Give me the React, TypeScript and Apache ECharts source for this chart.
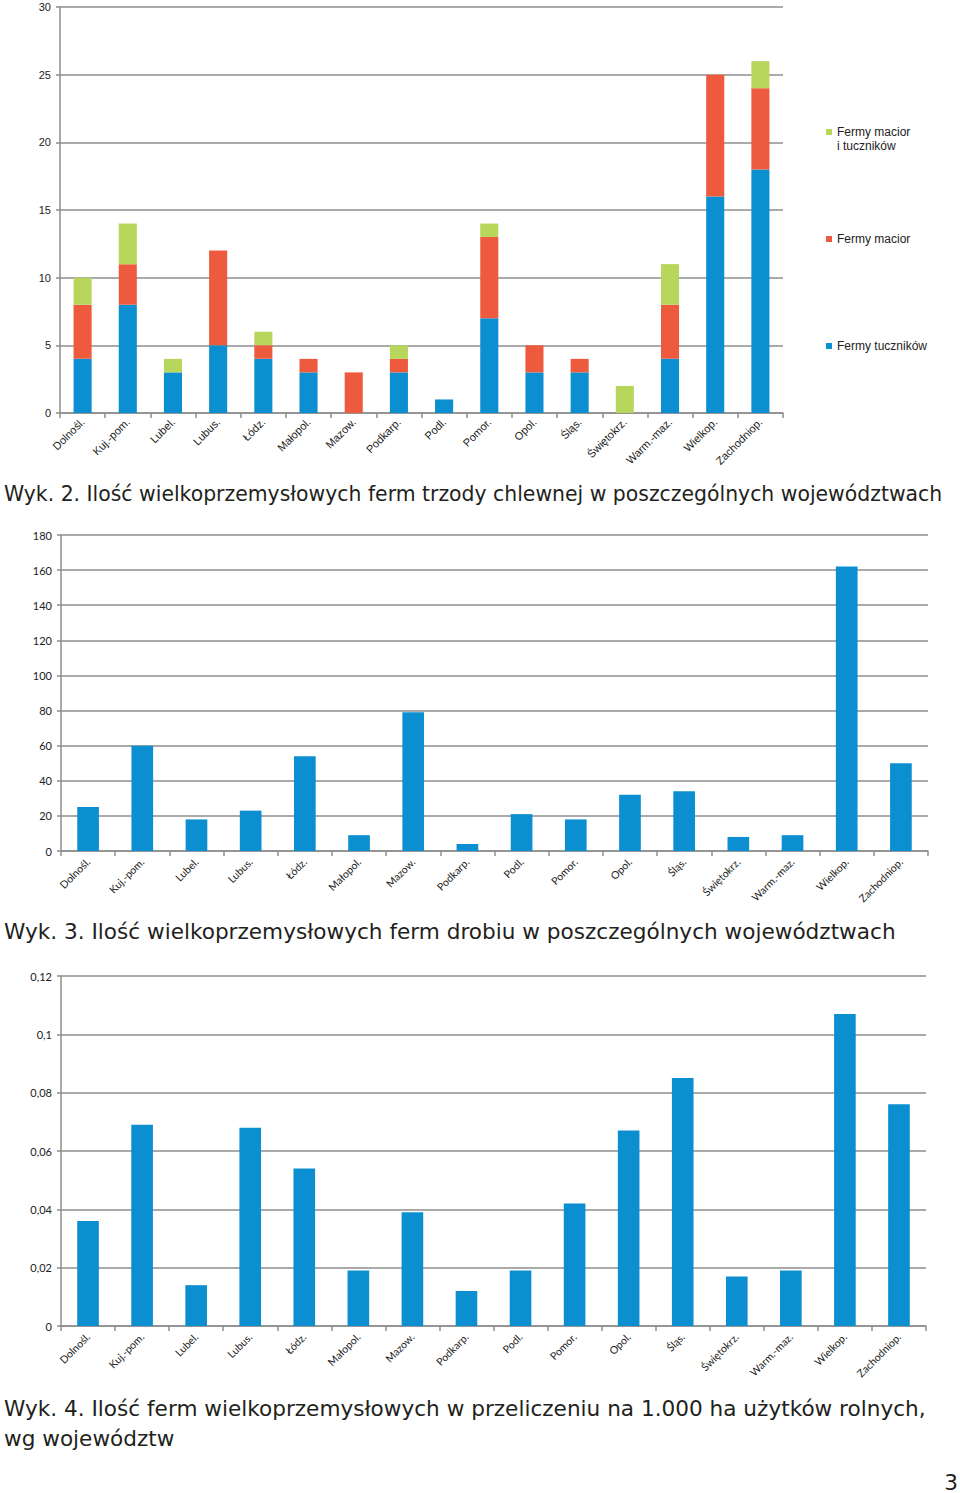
import React, { useEffect, useRef } from "react";
import * as echarts from "echarts";

const categories = [
  "Dolnośl.", "Kuj.-pom.", "Lubel.", "Lubus.", "Łódz.", "Małopol.", "Mazow.", "Podkarp.",
  "Podl.", "Pomor.", "Opol.", "Śląs.", "Świętokrz.", "Warm.-maz.", "Wielkop.", "Zachodniop.",
];

// Wyk. 2 – pig farms (stacked)
const pigFattening = [4, 8, 3, 5, 4, 3, 0, 3, 1, 7, 3, 3, 0, 4, 16, 18];
const pigSows = [4, 3, 0, 7, 1, 1, 3, 1, 0, 6, 2, 1, 0, 4, 9, 6];
const pigMixed = [2, 3, 1, 0, 1, 0, 0, 1, 0, 1, 0, 0, 2, 3, 0, 2];
const pigSeriesNames = ["Fermy tuczników", "Fermy macior", "Fermy macior i tuczników"];

// Wyk. 3 – poultry farms
const poultryFarms = [25, 60, 18, 23, 54, 9, 79, 4, 21, 18, 32, 34, 8, 9, 162, 50];

// Wyk. 4 – farms per 1000 ha
const farmsPer1000ha = [
  0.036, 0.069, 0.014, 0.068, 0.054, 0.019, 0.039, 0.012,
  0.019, 0.042, 0.067, 0.085, 0.017, 0.019, 0.107, 0.076,
];

const captionWyk2 = "Wyk. 2. Ilość wielkoprzemysłowych ferm trzody chlewnej w poszczególnych województwach";
const captionWyk3 = "Wyk. 3. Ilość wielkoprzemysłowych ferm drobiu w poszczególnych województwach";
const captionWyk4a = "Wyk. 4. Ilość ferm wielkoprzemysłowych w przeliczeniu na 1.000 ha użytków rolnych,";
const captionWyk4b = "wg województw";
const pageNumber = "3";

const BLUE = "#0b8fd1";
const RED = "#ee5a3e";
const GREEN = "#b7d65c";
const AXIS = "#8e8e8e";
const TEXT = "#222";
const CAPTION = "#231f20";
const CAPTION_FONT = '400 21.6px "DejaVu Sans", sans-serif';
const CAPTION_FONT_TIGHT = '400 20.4px "DejaVu Sans", sans-serif';

function xAxisFor(gridIndex: number, font: string, size: number, margin: number) {
  return {
    type: "category",
    gridIndex,
    data: categories,
    boundaryGap: true,
    axisLine: { show: true, lineStyle: { color: AXIS, width: 1.5 } },
    axisTick: { show: true, length: 5, lineStyle: { color: AXIS, width: 1.5 } },
    axisLabel: {
      interval: 0,
      rotate: 45,
      margin,
      fontFamily: font,
      fontSize: size,
      color: TEXT,
    },
    splitLine: { show: false },
  };
}

function yAxisFor(
  gridIndex: number,
  min: number,
  max: number,
  interval: number,
  font: string,
  size: number,
  formatter?: (v: number) => string
) {
  return {
    type: "value",
    gridIndex,
    min,
    max,
    interval,
    axisLine: { show: true, lineStyle: { color: AXIS, width: 1.5 } },
    axisTick: { show: true, length: 4, lineStyle: { color: AXIS, width: 1.5 } },
    splitLine: { show: true, lineStyle: { color: AXIS, width: 1.5 } },
    axisLabel: {
      margin: 9,
      fontFamily: font,
      fontSize: size,
      color: TEXT,
      formatter,
    },
  };
}

export default function App() {
  const ref = useRef<HTMLDivElement>(null);

  useEffect(() => {
    document.body.style.margin = "0";
    if (!ref.current) return;
    const chart = echarts.init(ref.current, undefined, { renderer: "svg" });

    const legendText = {
      fontFamily: '"Liberation Sans", Arial, sans-serif',
      fontSize: 12,
      lineHeight: 14,
      color: TEXT,
    };
    const legendBase = {
      left: 826,
      padding: 0,
      icon: "rect",
      itemWidth: 6,
      itemHeight: 6,
      selectedMode: false,
      textStyle: legendText,
    };

    chart.setOption({
      animation: false,
      backgroundColor: "#fff",
      grid: [
        { left: 60, top: 7, width: 723, height: 406, outerBoundsMode: "none" },
        { left: 61, top: 535, width: 867, height: 316, outerBoundsMode: "none" },
        { left: 61, top: 976, width: 865, height: 350, outerBoundsMode: "none" },
      ],
      xAxis: [
        xAxisFor(0, '"Liberation Sans", Arial, sans-serif', 11, 7),
        xAxisFor(1, "Lato, sans-serif", 10.5, 9),
        xAxisFor(2, "Lato, sans-serif", 10.5, 9),
      ],
      yAxis: [
        yAxisFor(0, 0, 30, 5, '"Liberation Sans", Arial, sans-serif', 11),
        yAxisFor(1, 0, 180, 20, "Lato, sans-serif", 11),
        yAxisFor(2, 0, 0.12, 0.02, "Lato, sans-serif", 11, (v: number) =>
          String(+v.toFixed(2)).replace(".", ",")
        ),
      ],
      legend: [
        {
          ...legendBase,
          data: [pigSeriesNames[2]],
          top: 111,
          formatter: () => "\nFermy macior\ni tuczników",
        },
        { ...legendBase, data: [pigSeriesNames[1]], top: 232 },
        { ...legendBase, data: [pigSeriesNames[0]], top: 339 },
      ],
      series: [
        {
          name: pigSeriesNames[0],
          type: "bar",
          stack: "pigs",
          xAxisIndex: 0,
          yAxisIndex: 0,
          data: pigFattening,
          barWidth: "40%",
          itemStyle: { color: BLUE },
        },
        {
          name: pigSeriesNames[1],
          type: "bar",
          stack: "pigs",
          xAxisIndex: 0,
          yAxisIndex: 0,
          data: pigSows,
          barWidth: "40%",
          itemStyle: { color: RED },
        },
        {
          name: pigSeriesNames[2],
          type: "bar",
          stack: "pigs",
          xAxisIndex: 0,
          yAxisIndex: 0,
          data: pigMixed,
          barWidth: "40%",
          itemStyle: { color: GREEN },
        },
        {
          name: "Drób",
          type: "bar",
          xAxisIndex: 1,
          yAxisIndex: 1,
          data: poultryFarms,
          barWidth: "40%",
          itemStyle: { color: BLUE },
        },
        {
          name: "Na 1000 ha",
          type: "bar",
          xAxisIndex: 2,
          yAxisIndex: 2,
          data: farmsPer1000ha,
          barWidth: "40%",
          itemStyle: { color: BLUE },
        },
      ],
      graphic: [
        {
          type: "text",
          x: 4,
          y: 494,
          style: { text: captionWyk2, font: CAPTION_FONT_TIGHT, fill: CAPTION, verticalAlign: "middle" },
        },
        {
          type: "text",
          x: 4,
          y: 931,
          style: { text: captionWyk3, font: CAPTION_FONT, fill: CAPTION, verticalAlign: "middle" },
        },
        {
          type: "text",
          x: 4,
          y: 1408,
          style: { text: captionWyk4a, font: CAPTION_FONT, fill: CAPTION, verticalAlign: "middle" },
        },
        {
          type: "text",
          x: 4,
          y: 1438,
          style: { text: captionWyk4b, font: CAPTION_FONT, fill: CAPTION, verticalAlign: "middle" },
        },
        {
          type: "text",
          x: 951,
          y: 1482,
          style: {
            text: pageNumber,
            font: CAPTION_FONT,
            fill: CAPTION,
            align: "center",
            verticalAlign: "middle",
          },
        },
      ],
    });

    return () => {
      chart.dispose();
    };
  }, []);

  return <div ref={ref} style={{ width: 960, height: 1493 }} />;
}
